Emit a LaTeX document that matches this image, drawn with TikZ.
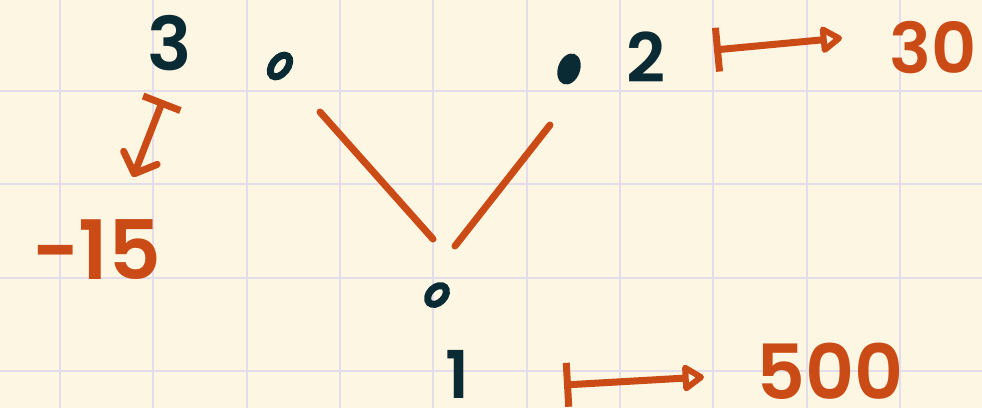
\documentclass[tikz,border=0pt]{standalone}
\usepackage{fontspec}
\setmainfont{Poppins}[BoldFont={Poppins SemiBold}]
\usetikzlibrary{arrows.meta,shapes.geometric,calc}
\definecolor{paper}{HTML}{FDF6E3}
\definecolor{ink}{HTML}{0A2A34}
\definecolor{marker}{HTML}{CB4B16}
\definecolor{gridc}{HTML}{E3DCEA}
\begin{document}
\begin{tikzpicture}[x=1pt,y=-1pt,
  gridline/.style={gridc, line width=2pt},
  inklabel/.style={text=ink, inner sep=0pt, font=\bfseries\fontsize{74}{74}\selectfont},
  valuelabel/.style={text=marker, inner sep=0pt},
  ring/.style={ellipse, draw=ink, line width=7pt, inner sep=0pt},
  blob/.style={ellipse, fill=ink, inner sep=0pt},
  edge/.style={marker, line width=7pt, line cap=round},
  mapsto/.style={marker, line width=7pt, line cap=round, line join=round,
    arrows={Bar[width=44pt]-Triangle[open,round,length=24pt,width=30pt]}},
  mapsdown/.style={marker, line width=7pt, line cap=round, line join=round,
    arrows={Bar[width=40pt]-Straight Barb[round,length=17pt,width=36pt]}},
]
\useasboundingbox (0,0) rectangle (982,408);
\fill[paper] (0,0) rectangle (982,408);
\foreach \i in {0,...,9} \draw[gridline] ({60+93.33*\i},0) -- ({60+93.33*\i},408);
\foreach \j in {0,...,3} \draw[gridline] (0,{91+93.33*\j}) -- (982,{91+93.33*\j});

% tree nodes
\node[ring, minimum width=15pt, minimum height=25pt, rotate=-38] (n3) at (280,66) {};
\node[blob, minimum width=22pt, minimum height=32pt, rotate=-20] (n2) at (569,69) {};
\node[ring, minimum width=15pt, minimum height=22pt, rotate=-45] (n1) at (437,295) {};

% labels
\node[inklabel] (l3) at (170,43) {3};
\node[inklabel, font=\bfseries\fontsize{68}{68}\selectfont] (l2) at (646,57) {2};
\node[inklabel, font=\bfseries\fontsize{66}{66}\selectfont] (l1) at (457,374) {1};
\node[valuelabel, anchor=west, font=\bfseries\fontsize{70}{70}\selectfont] (v30) at (889,48) {30};
\node[valuelabel, font=\bfseries\fontsize{76}{76}\selectfont] (v500) at (830,371) {500};
\node[valuelabel, font=\bfseries\fontsize{82}{82}\selectfont] (vm15) at (97,250) {−15};

% edges
\coordinate (e3) at ($(n3)+(40,46)$);
\coordinate (e1a) at ($(n1)+(-4,-56)$);
\coordinate (e1b) at ($(n1)+(18,-49)$);
\coordinate (e2) at ($(n2)+(-19,56)$);
\draw[edge] (e3) -- (e1a);
\draw[edge] (e1b) -- (e2);

% maps-to arrows
\coordinate (m2a) at (714,50);
\coordinate (m2b) at (842,38);
\draw[mapsto] (m2a) -- (m2b);
\coordinate (m1a) at (564,385);
\coordinate (m1b) at (704,377);
\draw[mapsto] (m1a) -- (m1b);
\coordinate (m3a) at (163,100);
\coordinate (m3b) at (133,177);
\draw[mapsdown] (m3a) -- (m3b);
\end{tikzpicture}
\end{document}
